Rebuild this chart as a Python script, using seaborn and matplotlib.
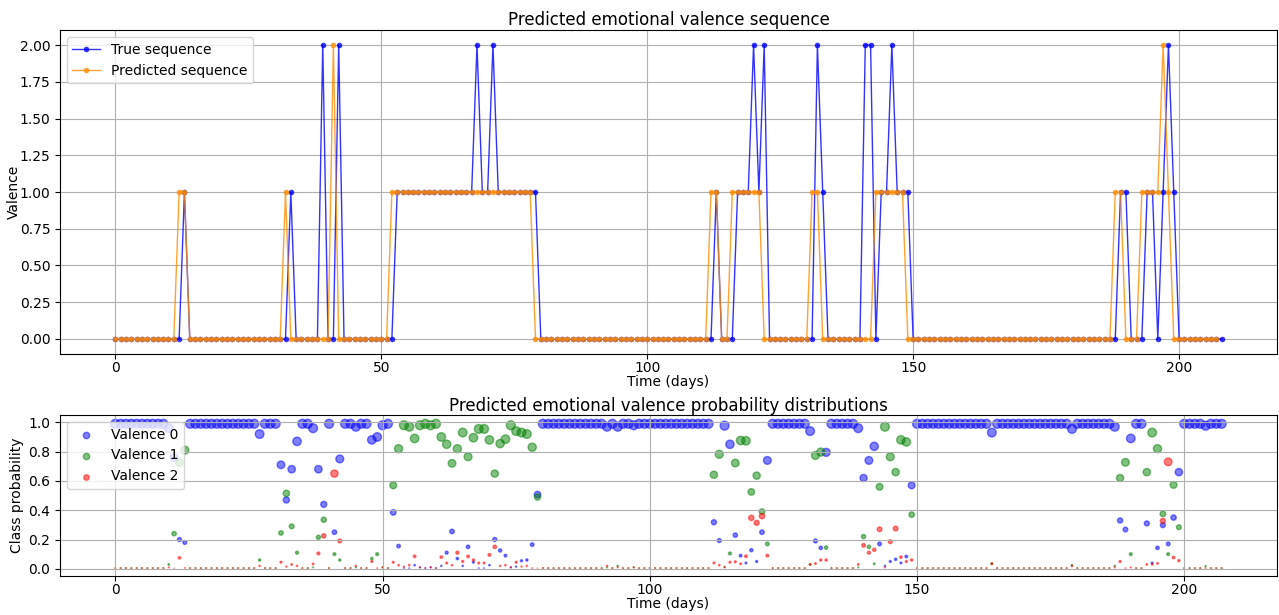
"""
Predicted vs true emotional valence, plus per-class probability scatter.
"""

import numpy as np
import pandas as pd
import matplotlib
matplotlib.use("Agg")
import matplotlib.pyplot as plt
from matplotlib.ticker import MultipleLocator
import seaborn as sns


# true valence per day (days 0..208)
true_seq = [
    0, 0, 0, 0, 0, 0, 0, 0, 0, 0,
    0, 0, 0, 1, 0, 0, 0, 0, 0, 0,
    0, 0, 0, 0, 0, 0, 0, 0, 0, 0,
    0, 0, 0, 1, 0, 0, 0, 0, 0, 2,
    0, 0, 2, 0, 0, 0, 0, 0, 0, 0,
    0, 0, 0, 1, 1, 1, 1, 1, 1, 1,
    1, 1, 1, 1, 1, 1, 1, 1, 2, 1,
    1, 2, 1, 1, 1, 1, 1, 1, 1, 1,
    0, 0, 0, 0, 0, 0, 0, 0, 0, 0,
    0, 0, 0, 0, 0, 0, 0, 0, 0, 0,
    0, 0, 0, 0, 0, 0, 0, 0, 0, 0,
    0, 0, 0, 1, 0, 0, 0, 1, 1, 1,
    2, 1, 2, 0, 0, 0, 0, 0, 0, 0,
    0, 0, 2, 1, 0, 0, 0, 0, 0, 0,
    0, 2, 2, 0, 1, 1, 2, 1, 1, 1,
    0, 0, 0, 0, 0, 0, 0, 0, 0, 0,
    0, 0, 0, 0, 0, 0, 0, 0, 0, 0,
    0, 0, 0, 0, 0, 0, 0, 0, 0, 0,
    0, 0, 0, 0, 0, 0, 0, 0, 0, 1,
    1, 0, 0, 0, 1, 1, 0, 1, 2, 1,
    0, 0, 0, 0, 0, 0, 0, 0, 0,
]

# predicted valence per day (days 0..207)
pred_seq = [
    0, 0, 0, 0, 0, 0, 0, 0, 0, 0,
    0, 0, 1, 1, 0, 0, 0, 0, 0, 0,
    0, 0, 0, 0, 0, 0, 0, 0, 0, 0,
    0, 0, 1, 0, 0, 0, 0, 0, 0, 0,
    0, 2, 0, 0, 0, 0, 0, 0, 0, 0,
    0, 0, 1, 1, 1, 1, 1, 1, 1, 1,
    1, 1, 1, 1, 1, 1, 1, 1, 1, 1,
    1, 1, 1, 1, 1, 1, 1, 1, 1, 0,
    0, 0, 0, 0, 0, 0, 0, 0, 0, 0,
    0, 0, 0, 0, 0, 0, 0, 0, 0, 0,
    0, 0, 0, 0, 0, 0, 0, 0, 0, 0,
    0, 0, 1, 1, 0, 0, 1, 1, 1, 1,
    1, 1, 0, 0, 0, 0, 0, 0, 0, 0,
    0, 1, 1, 0, 0, 0, 0, 0, 0, 0,
    0, 0, 0, 1, 1, 1, 1, 1, 1, 0,
    0, 0, 0, 0, 0, 0, 0, 0, 0, 0,
    0, 0, 0, 0, 0, 0, 0, 0, 0, 0,
    0, 0, 0, 0, 0, 0, 0, 0, 0, 0,
    0, 0, 0, 0, 0, 0, 0, 0, 1, 1,
    0, 0, 0, 1, 1, 1, 1, 2, 1, 0,
    0, 0, 0, 0, 0, 0, 0, 0,
]

# class probabilities per day (days 0..207)
prob_v0 = [
    0.99, 0.99, 0.99, 0.99, 0.99, 0.99, 0.99, 0.99, 0.99, 0.99,
    0.96, 0.76, 0.20, 0.18, 0.99, 0.99, 0.99, 0.99, 0.99, 0.99,
    0.99, 0.99, 0.99, 0.99, 0.99, 0.99, 0.99, 0.92, 0.99, 0.99,
    0.99, 0.71, 0.47, 0.68, 0.87, 0.99, 0.99, 0.96, 0.68, 0.44,
    0.99, 0.25, 0.75, 0.99, 0.99, 0.97, 0.99, 0.99, 0.88, 0.90,
    0.98, 0.99, 0.385, 0.155, 0.005, 0.005, 0.025, 0.01, 0.005, 0.01,
    0.005, 0.02, 0.11, 0.255, 0.07, 0.02, 0.15, 0.045, 0.005, 0.005,
    0.025, 0.20, 0.125, 0.09, 0.01, 0.015, 0.055, 0.06, 0.165, 0.507,
    0.99, 0.99, 0.99, 0.99, 0.99, 0.99, 0.99, 0.99, 0.99, 0.99,
    0.99, 0.99, 0.97, 0.99, 0.97, 0.99, 0.99, 0.98, 0.99, 0.99,
    0.99, 0.99, 0.99, 0.99, 0.99, 0.99, 0.99, 0.99, 0.99, 0.99,
    0.99, 0.99, 0.318, 0.193, 0.977, 0.85, 0.23, 0.09, 0.04, 0.127,
    0.05, 0.25, 0.74, 0.99, 0.99, 0.99, 0.99, 0.99, 0.99, 0.99,
    0.94, 0.19, 0.143, 0.795, 0.99, 0.99, 0.99, 0.99, 0.99, 0.96,
    0.62, 0.74, 0.836, 0.17, 0.02, 0.05, 0.065, 0.04, 0.084, 0.57,
    0.99, 0.99, 0.99, 0.99, 0.99, 0.99, 0.99, 0.99, 0.99, 0.99,
    0.99, 0.99, 0.99, 0.99, 0.93, 0.99, 0.99, 0.99, 0.99, 0.99,
    0.99, 0.99, 0.99, 0.99, 0.99, 0.99, 0.99, 0.99, 0.99, 0.955,
    0.99, 0.99, 0.99, 0.99, 0.99, 0.99, 0.99, 0.97, 0.33, 0.268,
    0.89, 0.99, 0.99, 0.31, 0.04, 0.143, 0.298, 0.17, 0.35, 0.66,
    0.99, 0.99, 0.99, 0.99, 0.977, 0.99, 0.99, 0.99,
]
prob_v1 = [
    0.005, 0.005, 0.005, 0.005, 0.005, 0.005, 0.005, 0.005, 0.005, 0.005,
    0.03, 0.24, 0.725, 0.81, 0.005, 0.005, 0.005, 0.005, 0.005, 0.005,
    0.005, 0.005, 0.005, 0.005, 0.005, 0.005, 0.005, 0.06, 0.005, 0.005,
    0.005, 0.245, 0.515, 0.29, 0.11, 0.005, 0.005, 0.01, 0.215, 0.335,
    0.005, 0.10, 0.06, 0.005, 0.005, 0.01, 0.005, 0.005, 0.07, 0.10,
    0.01, 0.005, 0.57, 0.82, 0.98, 0.97, 0.89, 0.98, 0.99, 0.98,
    0.99, 0.90, 0.85, 0.72, 0.82, 0.93, 0.765, 0.895, 0.955, 0.955,
    0.88, 0.65, 0.855, 0.885, 0.98, 0.94, 0.93, 0.92, 0.83, 0.49,
    0.005, 0.005, 0.005, 0.005, 0.005, 0.005, 0.005, 0.005, 0.005, 0.005,
    0.005, 0.005, 0.01, 0.005, 0.02, 0.005, 0.005, 0.01, 0.005, 0.005,
    0.005, 0.005, 0.005, 0.005, 0.005, 0.005, 0.005, 0.005, 0.005, 0.005,
    0.005, 0.005, 0.642, 0.782, 0.013, 0.105, 0.722, 0.876, 0.874, 0.525,
    0.636, 0.39, 0.17, 0.005, 0.005, 0.005, 0.005, 0.005, 0.005, 0.005,
    0.03, 0.774, 0.797, 0.145, 0.005, 0.005, 0.005, 0.005, 0.005, 0.01,
    0.22, 0.15, 0.034, 0.56, 0.97, 0.765, 0.66, 0.88, 0.866, 0.37,
    0.005, 0.005, 0.005, 0.005, 0.005, 0.005, 0.005, 0.005, 0.005, 0.005,
    0.005, 0.005, 0.005, 0.005, 0.035, 0.005, 0.005, 0.005, 0.005, 0.005,
    0.005, 0.005, 0.005, 0.005, 0.005, 0.005, 0.005, 0.005, 0.005, 0.025,
    0.005, 0.005, 0.005, 0.005, 0.005, 0.005, 0.005, 0.02, 0.62, 0.727,
    0.10, 0.005, 0.005, 0.66, 0.93, 0.82, 0.375, 0.10, 0.573, 0.284,
    0.005, 0.005, 0.005, 0.005, 0.018, 0.005, 0.005, 0.005,
]
prob_v2 = [
    0.005, 0.005, 0.005, 0.005, 0.005, 0.005, 0.005, 0.005, 0.005, 0.005,
    0.01, 0.003, 0.075, 0.006, 0.005, 0.005, 0.005, 0.005, 0.005, 0.005,
    0.005, 0.005, 0.005, 0.005, 0.005, 0.005, 0.005, 0.02, 0.005, 0.005,
    0.005, 0.045, 0.015, 0.03, 0.02, 0.005, 0.005, 0.033, 0.105, 0.225,
    0.005, 0.65, 0.19, 0.005, 0.005, 0.02, 0.005, 0.005, 0.05, 0.005,
    0.01, 0.005, 0.045, 0.025, 0.015, 0.025, 0.085, 0.01, 0.005, 0.01,
    0.005, 0.08, 0.04, 0.025, 0.11, 0.05, 0.085, 0.06, 0.04, 0.04,
    0.095, 0.15, 0.02, 0.025, 0.01, 0.045, 0.015, 0.02, 0.005, 0.003,
    0.005, 0.005, 0.005, 0.005, 0.005, 0.005, 0.005, 0.005, 0.005, 0.005,
    0.005, 0.005, 0.02, 0.005, 0.01, 0.005, 0.005, 0.01, 0.005, 0.005,
    0.005, 0.005, 0.005, 0.005, 0.005, 0.005, 0.005, 0.005, 0.005, 0.005,
    0.005, 0.005, 0.04, 0.025, 0.01, 0.045, 0.048, 0.034, 0.086, 0.348,
    0.314, 0.36, 0.09, 0.005, 0.005, 0.005, 0.005, 0.005, 0.005, 0.005,
    0.03, 0.036, 0.06, 0.06, 0.005, 0.005, 0.005, 0.005, 0.005, 0.03,
    0.16, 0.11, 0.13, 0.27, 0.01, 0.185, 0.275, 0.08, 0.05, 0.06,
    0.005, 0.005, 0.005, 0.005, 0.005, 0.005, 0.005, 0.005, 0.005, 0.005,
    0.005, 0.005, 0.005, 0.005, 0.035, 0.005, 0.005, 0.005, 0.005, 0.005,
    0.005, 0.005, 0.005, 0.005, 0.005, 0.005, 0.005, 0.005, 0.005, 0.02,
    0.005, 0.005, 0.005, 0.005, 0.005, 0.005, 0.005, 0.01, 0.05, 0.005,
    0.01, 0.005, 0.005, 0.03, 0.03, 0.037, 0.327, 0.73, 0.077, 0.056,
    0.005, 0.005, 0.005, 0.005, 0.005, 0.005, 0.005, 0.005,
]

class_names = ["Valence 0", "Valence 1", "Valence 2"]
class_colors = ["blue", "green", "red"]


fig = plt.figure(figsize=(12.79, 6.15), dpi=100)
ax_seq = fig.add_axes([0.0469, 0.4249, 0.9515, 0.5258])
ax_prob = fig.add_axes([0.0469, 0.0639, 0.9515, 0.2613])

# --- top: sequences
seq_df = pd.DataFrame({"day": np.arange(len(true_seq)), "valence": true_seq})
pred_df = pd.DataFrame({"day": np.arange(len(pred_seq)), "valence": pred_seq})

sns.lineplot(
    data=seq_df, x="day", y="valence", ax=ax_seq, errorbar=None,
    color="blue", alpha=0.8, linewidth=1, marker="o", markersize=4,
    markeredgewidth=0, label="True sequence",
)
sns.lineplot(
    data=pred_df, x="day", y="valence", ax=ax_seq, errorbar=None,
    color="darkorange", alpha=0.8, linewidth=1, marker="o", markersize=4,
    markeredgewidth=0, label="Predicted sequence",
)
ax_seq.xaxis.set_major_locator(MultipleLocator(50))
ax_seq.tick_params(axis="x", pad=2)
ax_seq.set_title("Predicted emotional valence sequence", pad=4)
ax_seq.set_xlabel("Time (days)", labelpad=0)
ax_seq.set_ylabel("Valence", labelpad=-1)
ax_seq.grid(True)
ax_seq.legend(loc="upper left")

# --- bottom: probabilities, marker area scales with probability
prob_days = np.arange(len(prob_v0))
for values, name, color in zip([prob_v0, prob_v1, prob_v2], class_names, class_colors):
    vals = np.asarray(values)
    sns.scatterplot(
        x=prob_days, y=vals, ax=ax_prob, s=vals * 42,
        color=color, edgecolor=color, linewidth=1, alpha=0.5, label=name,
    )
ax_prob.set_ylim(-0.047, 1.05)
ax_prob.xaxis.set_major_locator(MultipleLocator(50))
ax_prob.yaxis.set_major_locator(MultipleLocator(0.2))
ax_prob.tick_params(axis="x", pad=2)
ax_prob.set_title("Predicted emotional valence probability distributions", pad=3)
ax_prob.set_xlabel("Time (days)", labelpad=0)
ax_prob.set_ylabel("Class probability", labelpad=3)
ax_prob.grid(True)
ax_prob.legend(loc="upper left")

fig.savefig("out.png", dpi=100)
plt.close(fig)
